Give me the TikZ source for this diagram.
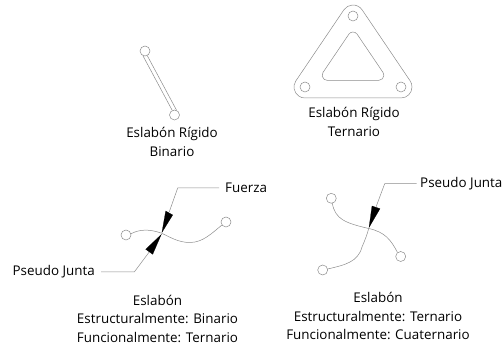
\documentclass[tikz,border=0pt]{standalone}
\usepackage{fontspec}
\setmainfont{Open Sans}
\usetikzlibrary{calc}
\definecolor{ln}{gray}{0.55}
\tikzset{
  x=1pt,y=1pt,
  joint/.style={circle,draw=ln,line width=0.5pt,minimum size=10pt,inner sep=0pt,fill=white},
  part/.style={draw=ln,line width=0.5pt},
  lead/.style={draw=ln,line width=0.5pt},
  tipfill/.style={fill=black,draw=black,line width=0.2pt},
  lbl/.style={font=\fontsize{13.4}{18.5}\selectfont,text=black,align=center,inner sep=0pt},
  lone/.style={font=\fontsize{13.4}{15}\selectfont,text=black,inner sep=0pt}
}
\begin{document}
\begin{tikzpicture}
\useasboundingbox (0,0) rectangle (504,347);
% binary rigid link
\node[joint] (a1) at (145,296) {};
\node[joint] (a2) at (174.5,232) {};
\draw[part] ($(a1)+(-2.2,-4.5)$) -- ($(a2)+(-2.2,4.5)$);
\draw[part] ($(a1)+(2.2,-4.5)$) -- ($(a2)+(2.2,4.5)$);
\node[lbl] (t1) at (172,205) {Eslabón Rígido\\Binario};
% ternary rigid link
\node[joint] (T) at (353,331) {};
\node[joint] (L) at (305,260) {};
\node[joint] (R) at (401,260) {};
\draw[part] ($(T)+(34.06:11)$) arc[start angle=34.06,end angle=145.94,radius=11]
  -- ($(L)+(145.94:11)$) arc[start angle=145.94,end angle=270,radius=11]
  -- ($(R)+(270:11)$) arc[start angle=270,end angle=394.06,radius=11] -- cycle;
\coordinate (IT) at (353,310);
\coordinate (IL) at (327.1,271.7);
\coordinate (IR) at (378.9,271.7);
\draw[part] ($(IT)+(34.06:5)$) arc[start angle=34.06,end angle=145.94,radius=5]
  -- ($(IL)+(145.94:5)$) arc[start angle=145.94,end angle=270,radius=5]
  -- ($(IR)+(270:5)$) arc[start angle=270,end angle=394.06,radius=5] -- cycle;
\node[lbl] (t2) at (354,225) {Eslabón Rígido\\Ternario};
% lower left link
\node[joint] (b1) at (126,112) {};
\node[joint] (b2) at (226,125) {};
\coordinate (bc) at (161.7,113.7);
\draw[part] (b1) ++(4.8,1.2) .. controls (140,118) and (150,118) .. (bc)
  .. controls (170,110) and (178,104.5) .. (190,104.5)
  .. controls (203,104.5) and (212,114) .. (222,122);
\coordinate (f2) at (177.7,159);
\coordinate (f3) at (169.2,135);
\node[lone,anchor=west] (fz) at (225,159) {Fuerza};
\draw[lead] (fz.west) ++(-6,0) -- (f2) -- (f3);
\fill[tipfill] (161.9,114.5) -- (165.7,136) -- (172.7,132) -- cycle;
\coordinate (p2) at (134.3,75);
\coordinate (p3) at (149.2,95);
\node[lone,anchor=east] (pj) at (95,75) {Pseudo Junta};
\draw[lead] (pj.east) ++(6,0) -- (p2) -- (p3);
\fill[tipfill] (161.3,112.5) -- (145.7,97.7) -- (152.7,92.7) -- cycle;
\node[lbl] (t3) at (157.5,28.5) {Eslabón\\Estructuralmente: Binario\\Funcionalmente: Ternario};
% lower right link
\node[joint] (c1) at (331.3,148.7) {};
\node[joint] (c2) at (400.7,90.5) {};
\node[joint] (c3) at (322.7,77) {};
\coordinate (cc) at (368.7,118.5);
\draw[part] (c1) ++(1,-4.9) .. controls (335,128) and (345,124) .. (cc)
  .. controls (385,115) and (391,107) .. (397.5,94.5);
\draw[part] (c3) ++(4.9,1) .. controls (345,82) and (358,85) .. (362,100)
  .. controls (365,107) and (367,112) .. (cc);
\node[lone,anchor=west] (pk) at (420,163.3) {Pseudo Junta};
\coordinate (q2) at (384.7,163.3);
\coordinate (q3) at (376,140);
\draw[lead] (pk.west) ++(-3.5,0) -- (q2) -- (q3);
\fill[tipfill] (369,119.5) -- (372,141) -- (380,138.3) -- cycle;
\node[lbl] (t4) at (378,31) {Eslabón\\Estructuralmente: Ternario\\Funcionalmente: Cuaternario};
\end{tikzpicture}
\end{document}
